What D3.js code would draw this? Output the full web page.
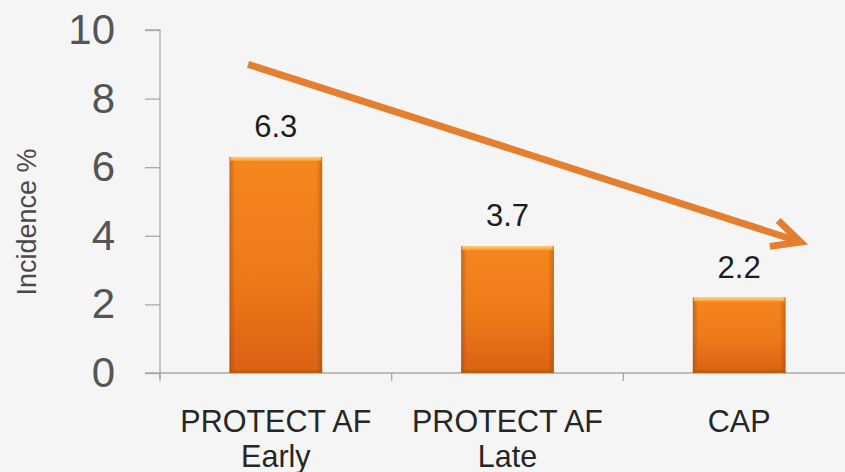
<!DOCTYPE html>
<html>
<head>
<meta charset="utf-8">
<script src="https://cdn.jsdelivr.net/npm/d3@7"></script>
<style>
  html, body { margin: 0; padding: 0; background: #f5f5f5; }
  svg { display: block; font-family: "Liberation Sans", Arial, sans-serif; }
</style>
</head>
<body>
<svg id="chart" width="845" height="472"></svg>
<script>
// Incidence by cohort
const categories = ["PROTECT AF\nEarly", "PROTECT AF\nLate", "CAP"];
const incidence = [6.3, 3.7, 2.2];
const yTicks = [0, 2, 4, 6, 8, 10];
const yTitle = "Incidence %";
// trend arrow endpoints: category index, offset in band steps, value
const trendFrom = [0, -0.12, 9.0];
const trendTo = [2, 0.265, 3.82];

const svg = d3.select("#chart");
const W = 845, H = 472;
const plot = { left: 160, right: 855, top: 30, bottom: 373 };

svg.append("rect").attr("width", W).attr("height", H).attr("fill", "#f5f5f5");

const x = d3.scaleBand()
  .domain(categories)
  .range([plot.left, plot.right])
  .paddingInner(0.6)
  .paddingOuter(0.3);

const y = d3.scaleLinear().domain([0, 10]).range([plot.bottom, plot.top]);

// gradients for the bevelled bars
const defs = svg.append("defs");
const gFill = defs.append("linearGradient").attr("id", "barFill")
  .attr("x1", 0).attr("y1", 0).attr("x2", 0).attr("y2", 1);
gFill.append("stop").attr("offset", "0%").attr("stop-color", "#fb8a1e");
gFill.append("stop").attr("offset", "55%").attr("stop-color", "#f27d1a");
gFill.append("stop").attr("offset", "100%").attr("stop-color", "#dd6314");

const gSide = defs.append("linearGradient").attr("id", "barSide")
  .attr("x1", 0).attr("y1", 0).attr("x2", 1).attr("y2", 0);
gSide.append("stop").attr("offset", "0%").attr("stop-color", "#8a3c0a").attr("stop-opacity", 0.45);
gSide.append("stop").attr("offset", "6%").attr("stop-color", "#8a3c0a").attr("stop-opacity", 0.05);
gSide.append("stop").attr("offset", "94%").attr("stop-color", "#8a3c0a").attr("stop-opacity", 0.05);
gSide.append("stop").attr("offset", "100%").attr("stop-color", "#8a3c0a").attr("stop-opacity", 0.45);

const gTop = defs.append("linearGradient").attr("id", "barTop")
  .attr("x1", 0).attr("y1", 0).attr("x2", 0).attr("y2", 1);
gTop.append("stop").attr("offset", "0%").attr("stop-color", "#ffd27a");
gTop.append("stop").attr("offset", "100%").attr("stop-color", "#fb9a30");

// y axis
const yAxis = d3.axisLeft(y).tickValues(yTicks).tickSize(15).tickPadding(30)
  .tickFormat(d3.format("d"));
const gy = svg.append("g").attr("transform", `translate(${plot.left},0)`).call(yAxis);
gy.select(".domain").attr("stroke", "#a8a8a8").attr("stroke-width", 1.3)
  .attr("d", `M-15,${y(10)}H0V${y(0) + 6}`);
gy.selectAll(".tick line").attr("stroke", "#a8a8a8").attr("stroke-width", 1.3);
gy.selectAll(".tick text").attr("fill", "#555555").attr("font-size", 42)
  .attr("font-family", "'Liberation Sans', Arial, sans-serif");

// x axis baseline with boundary ticks
svg.append("line").attr("x1", plot.left - 15).attr("x2", W)
  .attr("y1", y(0)).attr("y2", y(0)).attr("stroke", "#a8a8a8").attr("stroke-width", 1.5);
const step = x.step();
const boundaries = categories.map(c => x(c) - step * x.paddingInner() / 2);
svg.selectAll(".xtick").data(boundaries).join("line").attr("class", "xtick")
  .attr("x1", d => d).attr("x2", d => d)
  .attr("y1", y(0)).attr("y2", y(0) + 8)
  .attr("stroke", "#a8a8a8").attr("stroke-width", 1.3);

// bars
const bars = svg.append("g").selectAll("g").data(categories).join("g");
bars.append("rect")
  .attr("x", d => x(d)).attr("width", x.bandwidth())
  .attr("y", (d, i) => y(incidence[i]))
  .attr("height", (d, i) => y(0) - y(incidence[i]))
  .attr("fill", "url(#barFill)");
bars.append("rect")
  .attr("x", d => x(d)).attr("width", x.bandwidth())
  .attr("y", (d, i) => y(incidence[i]))
  .attr("height", (d, i) => y(0) - y(incidence[i]))
  .attr("fill", "url(#barSide)");
bars.append("rect")
  .attr("x", d => x(d) + 1).attr("width", x.bandwidth() - 2)
  .attr("y", (d, i) => y(incidence[i]))
  .attr("height", 4)
  .attr("fill", "url(#barTop)");
bars.append("rect")
  .attr("x", d => x(d)).attr("width", x.bandwidth())
  .attr("y", y(0) - 3).attr("height", 3)
  .attr("fill", "#b8560f").attr("opacity", 0.6);

// value labels
svg.append("g").selectAll("text").data(categories).join("text")
  .attr("x", d => x(d) + x.bandwidth() / 2)
  .attr("y", (d, i) => y(incidence[i]) - 20)
  .attr("text-anchor", "middle")
  .attr("font-size", 31).attr("fill", "#1c1c1c")
  .text((d, i) => incidence[i].toFixed(1));

// category labels (two lines)
const cl = svg.append("g").selectAll("text").data(categories).join("text")
  .attr("text-anchor", "middle").attr("font-size", 30.5).attr("fill", "#262626");
cl.each(function (d) {
  const t = d3.select(this);
  d.split("\n").forEach((line, k) => {
    t.append("tspan")
      .attr("x", x(d) + x.bandwidth() / 2)
      .attr("y", 432 + k * 35)
      .text(line);
  });
});

// y axis title
svg.append("text")
  .attr("transform", `translate(36, 222) rotate(-90)`)
  .attr("text-anchor", "middle")
  .attr("font-size", 27).attr("fill", "#4a4a4a")
  .text(yTitle);

// trend arrow
const px = p => x(categories[p[0]]) + x.bandwidth() / 2 + p[1] * step;
const x0 = px(trendFrom), y0 = y(trendFrom[2]);
const x1 = px(trendTo), y1 = y(trendTo[2]);
const ang = Math.atan2(y1 - y0, x1 - x0);
const wing = 31, spread = 26 * Math.PI / 180;
const w1 = [x1 - wing * Math.cos(ang - spread), y1 - wing * Math.sin(ang - spread)];
const w2 = [x1 - wing * Math.cos(ang + spread), y1 - wing * Math.sin(ang + spread)];
const arrowColor = "#e57f30";
svg.append("line")
  .attr("x1", x0).attr("y1", y0).attr("x2", x1 - 4 * Math.cos(ang)).attr("y2", y1 - 4 * Math.sin(ang))
  .attr("stroke", arrowColor).attr("stroke-width", 7);
svg.append("path")
  .attr("d", `M${w1[0]},${w1[1]}L${x1},${y1}L${w2[0]},${w2[1]}`)
  .attr("fill", "none").attr("stroke", arrowColor).attr("stroke-width", 7)
  .attr("stroke-linejoin", "miter");
</script>
</body>
</html>
